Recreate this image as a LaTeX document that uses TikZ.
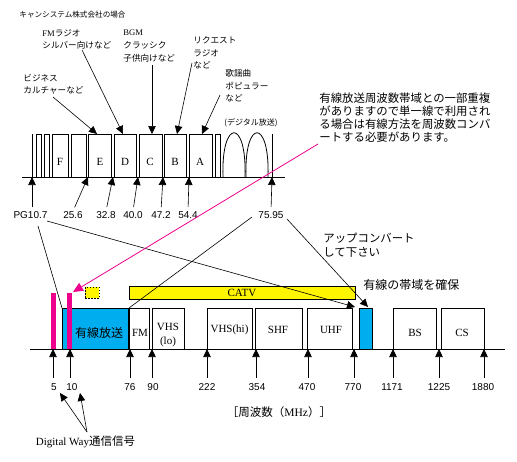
\documentclass[tikz,border=0pt]{standalone}
\usepackage{fontspec}
\setmainfont{Liberation Serif}
\newfontfamily\jp{Noto Sans CJK JP}
\newfontfamily\sa{Liberation Sans}
\usetikzlibrary{arrows.meta}
\definecolor{cyanb}{RGB}{0,174,239}
\definecolor{mag}{RGB}{236,0,140}
\definecolor{yel}{RGB}{255,245,0}
\begin{document}
\begin{tikzpicture}[x=1pt,y=-1pt,line width=0.8pt,
  bx/.style={draw,line width=0.9pt,inner sep=0,outer sep=0,anchor=north west},
  tip/.style={-{Triangle[length=8pt,width=7.5pt]}},
  thin/.style={line width=0.6pt},
  jps/.style={font=\jp\fontsize{8.6}{10}\selectfont,inner sep=0,anchor=west},
  jpt/.style={font=\jp\fontsize{7.6}{9}\selectfont,inner sep=0,anchor=west},
  jpm/.style={font=\jp\fontsize{11.4}{13}\selectfont,inner sep=0,anchor=west},
  num/.style={font=\sa\fontsize{10}{12}\selectfont,inner sep=0},
  ser/.style={font=\rmfamily\fontsize{11}{13}\selectfont,inner sep=0},
]
\useasboundingbox (0,0) rectangle (517,461);

% ---------------- upper band plan ----------------
\coordinate (tl) at (22,177); \coordinate (tr) at (285,177);
\foreach \n/\x/\w in {s1/36/5,s2/44/5,F/52/16,G/71/15,E/88/23,D/114/22,C/139/23,B/164/22,A/189/23,s3/215/5}
  \node[bx,minimum width=\w,minimum height=43] (\n) at (\x,134) {};
\coordinate (v1a) at (32,134); \coordinate (v1b) at (32,177);
\coordinate (v2a) at (272,134); \coordinate (v2b) at (272,177);
\draw (v1a) -- (v1b);
\draw (v2a) -- (v2b);
\coordinate (h1a) at (223,177); \coordinate (h1b) at (245,177);
\coordinate (h2a) at (246,177); \coordinate (h2b) at (268,177);
\draw (h1a) .. controls (221,118) and (247,118) .. (h1b);
\draw (h2a) .. controls (244,118) and (270,118) .. (h2b);
\draw (tl) -- (tr);

\node[ser] (lF) at (60,162) {F};
\node[ser] (lE) at (100,162) {E};
\node[ser] (lD) at (125,162) {D};
\node[ser] (lC) at (150,162) {C};
\node[ser] (lB) at (175,162) {B};
\node[ser] (lA) at (200,162) {A};
\node[font=\jp\fontsize{8}{10}\selectfont,inner sep=0] (dig) at (251,123) {(デジタル放送)};

% top labels
\node[jpt] (title) at (19,15) {キャンシステム株式会社の場合};
\node[jps] (fm1) at (42,33) {{\rmfamily FM}ラジオ};
\node[jps] (fm2) at (42,45) {シルバー向けなど};
\node[jps] (bg1) at (123,33) {{\rmfamily BGM}};
\node[jps] (bg2) at (123,45) {クラッシク};
\node[jps] (bg3) at (123,58) {子供向けなど};
\node[jps] (rq1) at (193,40) {リクエスト};
\node[jps] (rq2) at (193,53) {ラジオ};
\node[jps] (rq3) at (193,65) {など};
\node[jps] (ka1) at (225,73) {歌謡曲};
\node[jps] (ka2) at (225,86) {ポピュラー};
\node[jps] (ka3) at (225,98) {など};
\node[jps] (bz1) at (23,78) {ビジネス};
\node[jps] (bz2) at (23,90) {カルチャーなど};

\coordinate (sBz) at (53,97);  \coordinate (tBz) at (97,134);
\coordinate (sFm) at (82,50);  \coordinate (tFm) at (123,134);
\coordinate (sBg) at (152,65); \coordinate (tBg) at (152,134);
\coordinate (sRq) at (192,63); \coordinate (tRq) at (177,134);
\coordinate (sKa) at (220,95); \coordinate (tKa) at (202,134);
\draw[thin,tip] (sBz) -- (tBz);
\draw[thin,tip] (sFm) -- (tFm);
\draw[thin,tip] (sBg) -- (tBg);
\draw[thin,tip] (sRq) -- (tRq);
\draw[thin,tip] (sKa) -- (tKa);

% frequency labels (upper)
\node[num] (pg) at (30.5,215) {PG10.7};
\node[num] (u2) at (73,215) {25.6};
\node[num] (u3) at (106,215) {32.8};
\node[num] (u4) at (133,215) {40.0};
\node[num] (u5) at (161,215) {47.2};
\node[num] (u6) at (188,215) {54.4};
\node[num] (u7) at (271,215) {75.95};
\coordinate (pgs) at (32,207);
\coordinate (a1) at (32,177);
\coordinate (a2) at (88,177);
\coordinate (a3) at (113,177);
\coordinate (a4) at (138,177);
\coordinate (a5) at (163,177);
\coordinate (a6) at (189,177);
\coordinate (a7) at (272,177);
\draw[thin,tip] (pgs) -- (a1);
\draw[thin,tip,shorten <=4pt] (u2.north) -- (a2);
\draw[thin,tip,shorten <=4pt] (u3.north) -- (a3);
\draw[thin,tip,shorten <=4pt] (u4.north) -- (a4);
\draw[thin,tip,shorten <=4pt] (u5.north) -- (a5);
\draw[thin,tip,shorten <=4pt] (u6.north) -- (a6);
\draw[thin,tip,shorten <=4pt] (u7.north) -- (a7);

% right text block
\node[jpm] (t1) at (319,98) {有線放送周波数帯域との一部重複};
\node[jpm] (t2) at (319,111) {がありますので単一線で利用され};
\node[jpm] (t3) at (319,124) {る場合は有線方法を周波数コンバ};
\node[jpm] (t4) at (319,137) {ートする必要があります。};

% ---------------- lower band plan ----------------
\node[bx,fill=cyanb,minimum width=66,minimum height=41] (wired) at (62,308) {};
\node[font=\jp\fontsize{12}{14}\selectfont,inner sep=0] (wiredl) at (99,333) {有線放送};
\node[bx,minimum width=20,minimum height=41] (fm) at (129,308) {};
\node[bx,minimum width=32,minimum height=41] (vlo) at (152,308) {};
\node[bx,minimum width=45,minimum height=41] (vhi) at (207,308) {};
\node[bx,minimum width=47,minimum height=41] (shf) at (255,308) {};
\node[bx,minimum width=45,minimum height=41] (uhf) at (307,308) {};
\node[bx,fill=cyanb,minimum width=13,minimum height=41] (wb) at (359,308) {};
\node[bx,minimum width=43,minimum height=41] (bs) at (393,308) {};
\node[bx,minimum width=43,minimum height=41] (cs) at (441,308) {};

\node[ser] (fml) at (140,333) {FM};
\node[ser] (vlo1) at (168,327) {VHS};
\node[ser] (vlo2) at (168,342) {(lo)};
\node[ser] (vhil) at (229.5,330) {VHS(hi)};
\node[ser] (shfl) at (278,330) {SHF};
\node[ser] (uhfl) at (331,330) {UHF};
\node[ser] (bsl) at (415,333) {BS};
\node[ser] (csl) at (462,333) {CS};

\node[bx,fill=yel,minimum width=226,minimum height=13] (catv) at (129,286) {};
\node[ser] (catvl) at (242,292.5) {CATV};
\node[bx,fill=yel,dashed,dash pattern=on 1.5pt off 1.5pt,line width=0.8pt,minimum width=14,minimum height=11] (ysq) at (85,287) {};

\fill[mag] (51,293) rectangle (56,349);
\fill[mag] (67,293) rectangle (72,349);

\coordinate (bl) at (30,349); \coordinate (br) at (505,349);
\draw (bl) -- (br);

% lower labels
\node[jpm] (up1) at (323,238) {アップコンバート};
\node[jpm] (up2) at (323,252) {して下さい};
\node[font=\jp\fontsize{12}{14}\selectfont,inner sep=0,anchor=west] (kak) at (363,285) {有線の帯域を確保};

% connectors from upper labels
\coordinate (pgA) at (38,226);
\coordinate (pgB) at (47,221);
\coordinate (u7A) at (252,217);
\coordinate (u7B) at (287,219);
\coordinate (uhfT) at (355,307);
\coordinate (wbT) at (368,307);
\draw[thin] (pgA) -- (wired.north west);
\draw[thin,tip] (pgB) -- (uhfT);
\draw[thin] (u7A) -- (fm.north west);
\draw[thin,tip] (u7B) -- (wbT);

% magenta arrow
\coordinate (mS) at (318,144);
\coordinate (mT) at (73,292);
\draw[mag,line width=0.8pt,-{Triangle[length=10pt,width=9pt]}] (mS) -- (mT);

% frequency labels (lower)
\foreach \n/\x/\t in {b1/54/5,b2/72/10,b3/130/76,b4/153/90,b5/207/222,b6/257/354,b7/307/470,b8/353/770,b9/392/1171,b10/439/1225,b11/483/1880}
  \node[num] (\n) at (\x,387) {\t};
\foreach \n/\x in {c1/53,c2/70,c3/130,c4/152,c5/207,c6/256,c7/308,c8/354,c9/393,c10/439,c11/484}
  {\coordinate (\n) at (\x,349); \coordinate (\n s) at (\x,378);}
\foreach \n in {c1,c2,c3,c4,c5,c6,c7,c8,c9,c10,c11}
  \draw[thin,tip] (\n s) -- (\n);

\node[font=\jp\fontsize{11.5}{13}\selectfont,inner sep=0] (fq) at (279,412) {［周波数（{\rmfamily MHz}）］};
\node[inner sep=0] (dw) at (85.5,442) {{\rmfamily\fontsize{11}{13}\selectfont Digital Way}{\jp\fontsize{11.5}{13}\selectfont 通信信号}};
\coordinate (dws) at (87,432);
\coordinate (dt1) at (60,393);
\coordinate (dt2) at (80,393);
\draw[thin,tip] (dws) -- (dt1);
\draw[thin,tip] (dws) -- (dt2);
\end{tikzpicture}
\end{document}
